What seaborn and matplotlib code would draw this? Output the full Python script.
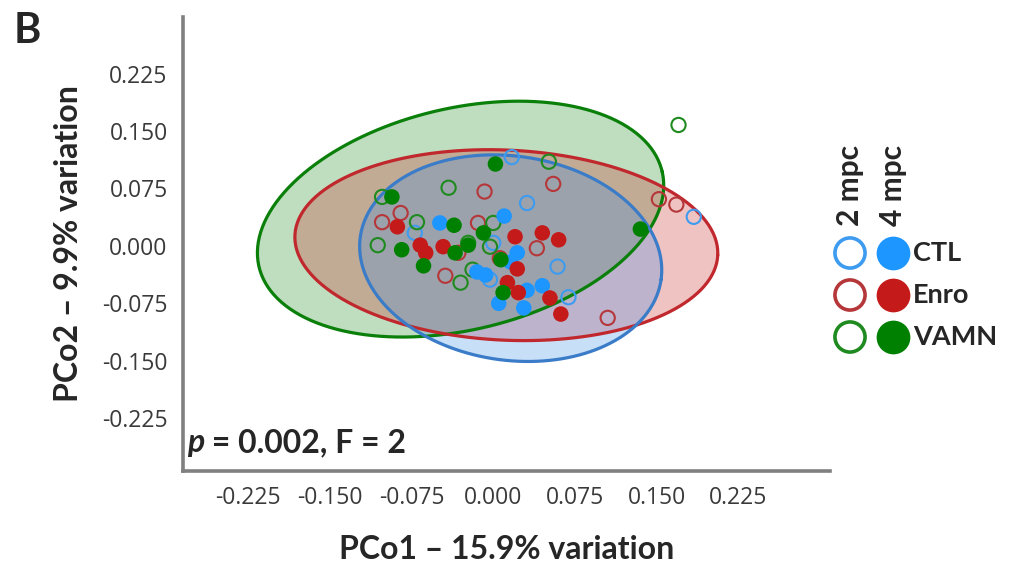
import numpy as np
import pandas as pd
import matplotlib
matplotlib.use('Agg')
import matplotlib.pyplot as plt
import seaborn as sns

# PCoA scores (2 mpc = open, 4 mpc = filled)
ctl_2_x = [0.017, 0.031, 0.059, 0.069, 0.184, -0.072, -0.003, 0.000]
ctl_2_y = [0.116, 0.056, -0.027, -0.067, 0.038, 0.017, -0.044, 0.004]
ctl_4_x = [-0.049, 0.010, 0.022, -0.007, 0.045, 0.005, 0.028, -0.015, 0.031, 0.016]
ctl_4_y = [0.030, 0.039, -0.009, -0.038, -0.052, -0.075, -0.081, -0.034, -0.058, -0.021]

enro_2_x = [-0.085, -0.102, -0.008, -0.014, 0.055, 0.040, 0.006, -0.032, -0.044, 0.105, 0.152, 0.168]
enro_2_y = [0.043, 0.031, 0.071, 0.030, 0.081, -0.003, -0.016, -0.009, -0.039, -0.094, 0.061, 0.054]
enro_4_x = [-0.088, -0.067, -0.062, -0.046, 0.020, 0.045, 0.060, 0.022, 0.013, 0.023, 0.052, 0.062]
enro_4_y = [0.025, 0.001, -0.009, -0.001, 0.012, 0.017, 0.008, -0.030, -0.048, -0.061, -0.068, -0.089]

vamn_2_x = [-0.041, -0.102, -0.070, 0.051, 0.000, -0.003, -0.106, -0.030, -0.019, 0.170, -0.023]
vamn_2_y = [0.076, 0.064, 0.031, 0.110, 0.030, -0.001, 0.001, -0.048, -0.031, 0.158, 0.004]
vamn_4_x = [-0.093, -0.036, 0.002, -0.009, -0.084, -0.064, -0.035, 0.007, 0.009, 0.135, -0.023]
vamn_4_y = [0.064, 0.027, 0.107, 0.017, -0.005, -0.026, -0.009, -0.018, -0.061, 0.022, 0.001]

# group ellipses: centre and two conjugate semi-axes (data units)
ell_groups = ['VAMN', 'Enro', 'CTL']
ell_cx = [-0.030, 0.012, 0.016]
ell_cy = [0.035, 0.001, -0.016]
ell_ux = [0.185, 0.194, 0.138]
ell_uy = [0.062, -0.013, -0.028]
ell_vx = [0.023, -0.004, -0.013]
ell_vy = [-0.141, -0.124, -0.132]

groups = ['CTL', 'Enro', 'VAMN']
fill_col = {'CTL': '#1E96FF', 'Enro': '#C41A1A', 'VAMN': '#008000'}
open_col = {'CTL': '#3D9BF0', 'Enro': '#B5373A', 'VAMN': '#1F8A1F'}
edge_col = {'CTL': '#3A7CC8', 'Enro': '#C0282D', 'VAMN': '#0A800A'}
area_col = {'CTL': '#3C8CE6', 'Enro': '#CC2A2A', 'VAMN': '#1A8A1A'}

ticks = [-0.225, -0.150, -0.075, 0.000, 0.075, 0.150, 0.225]

pts = {
    ('CTL', '2 mpc'): (ctl_2_x, ctl_2_y), ('CTL', '4 mpc'): (ctl_4_x, ctl_4_y),
    ('Enro', '2 mpc'): (enro_2_x, enro_2_y), ('Enro', '4 mpc'): (enro_4_x, enro_4_y),
    ('VAMN', '2 mpc'): (vamn_2_x, vamn_2_y), ('VAMN', '4 mpc'): (vamn_4_x, vamn_4_y),
}
frames = []
for (g, t), (xs, ys) in pts.items():
    frames.append(pd.DataFrame({'PCo1': xs, 'PCo2': ys, 'group': g, 'time': t}))
df = pd.concat(frames, ignore_index=True)

sns.set_theme(style='white')
plt.rcParams['font.family'] = ['Open Sans', 'DejaVu Sans']
BOLD = ['Lato', 'DejaVu Sans']

fig = plt.figure(figsize=(10.12, 5.65), dpi=100)
ax = fig.add_axes([183 / 1012, 94 / 565, 647 / 1012, 454 / 565])

# ellipses
tt = np.linspace(0, 2 * np.pi, 300)
for i, g in enumerate(ell_groups):
    ex = ell_cx[i] + ell_ux[i] * np.cos(tt) + ell_vx[i] * np.sin(tt)
    ey = ell_cy[i] + ell_uy[i] * np.cos(tt) + ell_vy[i] * np.sin(tt)
    ax.fill(ex, ey, color=area_col[g], alpha=0.28, lw=0, zorder=1)
for i, g in enumerate(ell_groups):
    ex = ell_cx[i] + ell_ux[i] * np.cos(tt) + ell_vx[i] * np.sin(tt)
    ey = ell_cy[i] + ell_uy[i] * np.cos(tt) + ell_vy[i] * np.sin(tt)
    ax.plot(ex, ey, color=edge_col[g], lw=2.3, zorder=2)

# 2 mpc: open circles
for g in groups:
    sub = df[(df['group'] == g) & (df['time'] == '2 mpc')]
    sns.scatterplot(data=sub, x='PCo1', y='PCo2', ax=ax, color=open_col[g],
                    facecolor='none', edgecolor=open_col[g], linewidth=1.5,
                    s=105, zorder=3, legend=False)
# 4 mpc: filled circles
sub = df[df['time'] == '4 mpc']
sns.scatterplot(data=sub, x='PCo1', y='PCo2', hue='group', palette=fill_col,
                ax=ax, s=125, linewidth=0, zorder=4, legend=False)

ax.set_xlim(-0.2847, 0.309)
ax.set_ylim(-0.294, 0.299)
ax.set_xticks(ticks)
ax.set_yticks(ticks)
ax.set_xticklabels([f'{v:.3f}' for v in ticks])
ax.set_yticklabels([f'{v:.3f}' for v in ticks])
for s in ['top', 'right']:
    ax.spines[s].set_visible(False)
for s in ['left', 'bottom']:
    ax.spines[s].set_color('#808080')
    ax.spines[s].set_linewidth(2.6)
ax.tick_params(axis='both', direction='out', length=8, width=1.3, color='#333333',
               labelsize=16.5, labelcolor='#3a3a3a', pad=3)
ax.set_xlabel('PCo1 – 15.9% variation', fontsize=23, fontweight='bold',
              family=BOLD, labelpad=18)
ax.set_ylabel('PCo2 – 9.9% variation', fontsize=23, fontweight='bold',
              family=BOLD, labelpad=14)

t1 = ax.text(0.006, 0.042, 'p', transform=ax.transAxes, fontsize=23,
             fontweight='bold', style='italic', family=BOLD)
ax.annotate(' = 0.002, F = 2', xy=(1, 0), xycoords=t1, fontsize=23,
            fontweight='bold', family=BOLD, va='bottom')

fig.text(0.013, 0.978, 'B', fontsize=30, fontweight='bold', va='top',
         family=BOLD)

# legend block
lax = fig.add_axes([0, 0, 1, 1], facecolor='none')
lax.set_xlim(0, 1012)
lax.set_ylim(565, 0)
lax.axis('off')
leg_x = [850, 893]
leg_y = [253, 295, 337]
for j, h in enumerate(['2 mpc', '4 mpc']):
    lax.text(leg_x[j], 226, h, rotation=90, ha='center', va='bottom',
             fontsize=21.5, fontweight='bold', family=BOLD)
for i, g in enumerate(groups):
    lax.scatter([leg_x[0]], [leg_y[i]], s=470, facecolor='none',
                edgecolor=open_col[g], linewidth=2.6)
    lax.scatter([leg_x[1]], [leg_y[i]], s=590, color=fill_col[g], linewidth=0)
    lax.text(913, leg_y[i], g, ha='left', va='center', fontsize=19.5,
             fontweight='bold', family=BOLD)

fig.savefig('out.png', dpi=100)
